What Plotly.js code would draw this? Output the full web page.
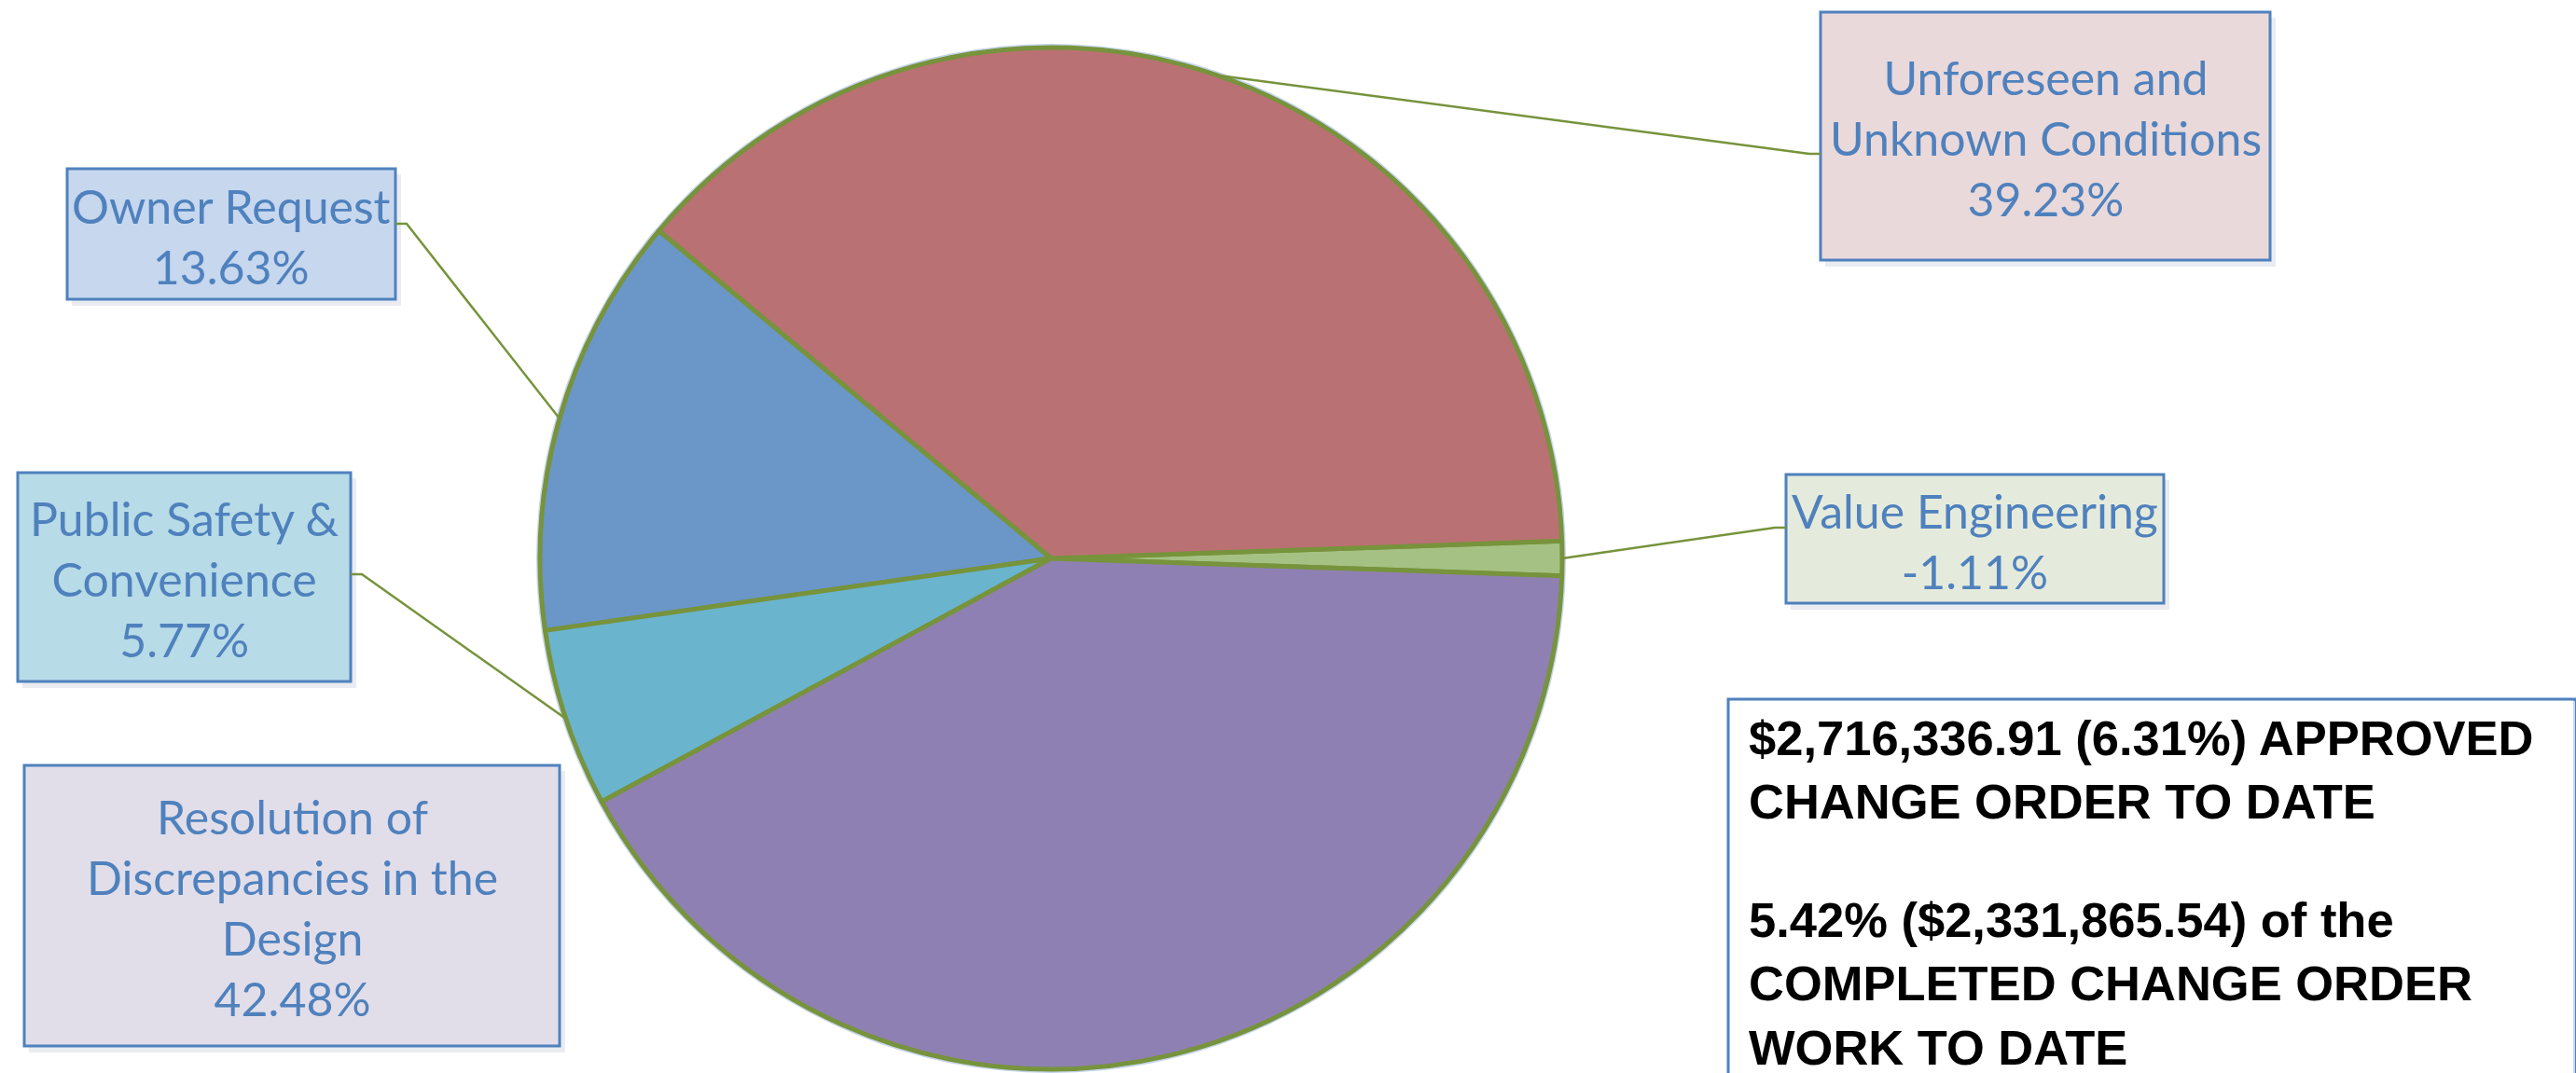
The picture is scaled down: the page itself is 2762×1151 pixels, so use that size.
<!DOCTYPE html>
<html>
<head>
<meta charset="utf-8">
<script src="https://cdn.plot.ly/plotly-3.0.1.min.js"></script>
<style>html,body{margin:0;padding:0;background:#fff;}#chart{width:2762px;height:1151px;}</style>
</head>
<body>
<div id="chart"></div>
<script>
// ---- data ----
const categories = ['Value Engineering', 'Unforeseen and Unknown Conditions', 'Owner Request', 'Public Safety & Convenience', 'Resolution of Discrepancies in the Design'];
const boxLabels = ['Value Engineering', 'Unforeseen and<br>Unknown Conditions', 'Owner Request', 'Public Safety &amp;<br>Convenience', 'Resolution of<br>Discrepancies in the<br>Design'];
const percents = [-1.11, 39.23, 13.63, 5.77, 42.48];
const sliceColors = ['#A5C183', '#BA7173', '#6B96C8', '#6AB4CE', '#8F80B3'];
const boxFills = ['#E5EBDC', '#EAD9DA', '#C6D7EE', '#B7DBE7', '#E1DEEA'];
const noteBlock1 = ['$2,716,336.91 (6.31%) APPROVED', 'CHANGE ORDER TO DATE'];
const noteBlock2 = ['5.42% ($2,331,865.54) of the', 'COMPLETED CHANGE ORDER', 'WORK TO DATE'];

// ---- layout geometry (pixels from top-left) ----
const W = 2762, H = 1151;
const cx = 1127, cy = 599, R = 548;
const boxes = [
  {x0: 1915, y0: 509, x1: 2320, y1: 647, attachY: 566, side: 'left'},
  {x0: 1952, y0: 13,  x1: 2434, y1: 279, attachY: 165, side: 'left'},
  {x0: 72,   y0: 181, x1: 424,  y1: 321, attachY: 240, side: 'right'},
  {x0: 19,   y0: 507, x1: 376,  y1: 731, attachY: 616, side: 'right'},
  {x0: 26,   y0: 821, x1: 600,  y1: 1122, attachY: null, side: null}
];
const px = v => v / W;
const py = v => 1 - v / H;

const absVals = percents.map(Math.abs);
const total = absVals.reduce((a, b) => a + b, 0);
const firstDeg = absVals[0] / total * 360;
// first slice (Value Engineering) centred on 3 o'clock, slices run counterclockwise
const startAngle = 90 + firstDeg / 2;
const rotation = startAngle - firstDeg;

const blue = '#4F81BD';
const green = '#77933C';
const shapes = [];
const annotations = [];

let cum = 0;
absVals.forEach((v, i) => {
  const frac = v / total;
  const mid = (startAngle - (cum + frac / 2) * 360) * Math.PI / 180;
  cum += frac;
  const rx = cx + R * Math.sin(mid);
  const ry = cy - R * Math.cos(mid);
  const b = boxes[i];
  shapes.push({type: 'rect', xref: 'paper', yref: 'paper', layer: 'below',
    x0: px(b.x0 + 5), x1: px(b.x1 + 6), y0: py(b.y0 + 6), y1: py(b.y1 + 7),
    fillcolor: 'rgba(90,110,150,0.13)', line: {width: 0}});
  shapes.push({type: 'rect', xref: 'paper', yref: 'paper', layer: 'above',
    x0: px(b.x0), x1: px(b.x1), y0: py(b.y0), y1: py(b.y1),
    fillcolor: boxFills[i], line: {color: blue, width: 3}});
  if (b.side) {
    const ex = b.side === 'left' ? b.x0 : b.x1;
    const elbow = b.side === 'left' ? ex - 12 : ex + 12;
    shapes.push({type: 'path', xref: 'paper', yref: 'paper', layer: 'above',
      path: `M ${px(rx)} ${py(ry)} L ${px(elbow)} ${py(b.attachY)} L ${px(ex)} ${py(b.attachY)}`,
      line: {color: green, width: 2.5}});
  }
  annotations.push({xref: 'paper', yref: 'paper',
    x: px((b.x0 + b.x1) / 2), y: py((b.y0 + b.y1) / 2 + 2),
    xanchor: 'center', yanchor: 'middle', showarrow: false, align: 'center',
    text: boxLabels[i] + '<br>' + percents[i].toFixed(2) + '%',
    font: {family: 'Lato, sans-serif', size: 50, color: blue}});
});

// note box
shapes.push({type: 'rect', xref: 'paper', yref: 'paper', layer: 'above',
  x0: px(1853), x1: px(2761), y0: py(750), y1: py(1160),
  fillcolor: '#FFFFFF', line: {color: blue, width: 3}});
shapes.push({type: 'line', xref: 'paper', yref: 'paper', layer: 'above',
  x0: px(2760), x1: px(2760), y0: py(752), y1: py(1151),
  line: {color: '#C9D7EA', width: 2}});
annotations.push({xref: 'paper', yref: 'paper', x: px(1873), y: py(760),
  xanchor: 'left', yanchor: 'top', showarrow: false, align: 'left',
  text: noteBlock1.map(s => '<b>' + s + '</b>').join('<br>'),
  font: {family: 'Liberation Sans, Arial, sans-serif', size: 52.5, color: '#000000'}});
annotations.push({xref: 'paper', yref: 'paper', x: px(1873), y: py(955),
  xanchor: 'left', yanchor: 'top', showarrow: false, align: 'left',
  text: noteBlock2.map(s => '<b>' + s + '</b>').join('<br>'),
  font: {family: 'Liberation Sans, Arial, sans-serif', size: 52.5, color: '#000000'}});

const halo = {
  type: 'pie', values: [total], labels: ['halo'], sort: false,
  marker: {colors: ['#C3D4EA'], line: {width: 0}},
  textinfo: 'none', hoverinfo: 'none',
  domain: {x: [px(cx - R - 4), px(cx + R + 4)], y: [1 - (cy + R + 4) / H, 1 - (cy - R - 4) / H]}
};
const pie = {
  type: 'pie', values: absVals, labels: categories, sort: false,
  direction: 'counterclockwise', rotation: rotation,
  marker: {colors: sliceColors, line: {color: green, width: 5}},
  textinfo: 'none', hoverinfo: 'label+text', text: percents.map(p => p.toFixed(2) + '%'),
  domain: {x: [px(cx - R), px(cx + R)], y: [1 - (cy + R) / H, 1 - (cy - R) / H]}
};

Plotly.newPlot('chart', [halo, pie], {
  width: W, height: H, margin: {l: 0, r: 0, t: 0, b: 0},
  showlegend: false, paper_bgcolor: '#FFFFFF',
  shapes: shapes, annotations: annotations
}, {displayModeBar: false, staticPlot: true});
</script>
</body>
</html>
